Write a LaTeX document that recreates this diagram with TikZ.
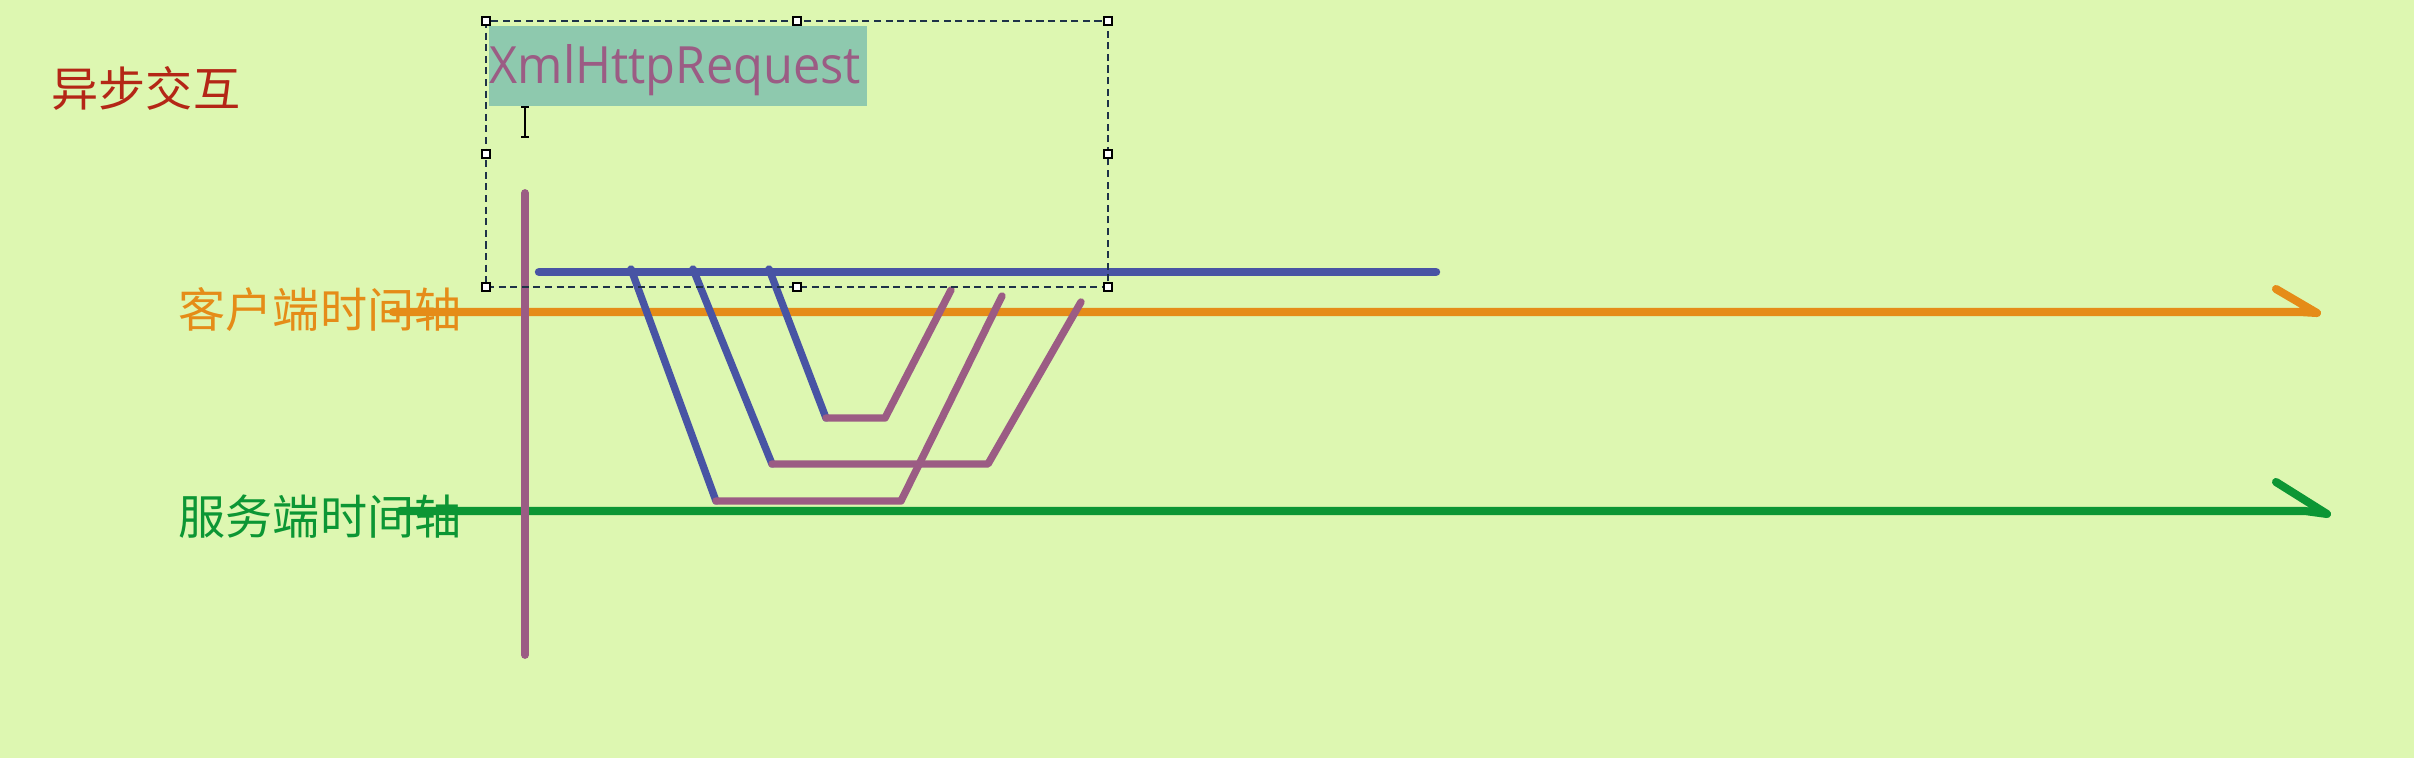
\documentclass[tikz,border=0pt]{standalone}
\usepackage{fontspec}
\setmainfont{Open Sans}
\newfontfamily\cjkfont{Noto Sans CJK SC}
\newfontfamily\xhrfont[FakeStretch=0.95]{Open Sans}
\usepackage{tikz}
\usetikzlibrary{positioning}
\definecolor{ajaxbg}{RGB}{221,247,177}
\definecolor{ajaxteal}{RGB}{142,201,174}
\definecolor{ajaxpurple}{RGB}{155,92,132}
\definecolor{ajaxblue}{RGB}{72,84,164}
\definecolor{ajaxorange}{RGB}{229,140,24}
\definecolor{ajaxgreen}{RGB}{12,150,52}
\definecolor{ajaxred}{RGB}{180,38,22}
\definecolor{ajaxsel}{RGB}{30,50,72}
\begin{document}
\begin{tikzpicture}[x=0.01cm,y=-0.01cm,
  axisline/.style={line width=2.3pt,line cap=round,line join=round},
  req/.style={line width=2.1pt,line cap=round,line join=round,draw=ajaxblue},
  resp/.style={line width=2.1pt,line cap=round,line join=round,draw=ajaxpurple},
  lbl/.style={inner sep=0pt,font=\cjkfont\fontsize{13.4}{16}\selectfont},
  handle/.style={rectangle,draw=black,fill=white,inner sep=0pt,minimum size=0.075cm,line width=0.5pt},
  selbox/.style={draw=ajaxsel,line width=0.5pt,dash pattern=on 2pt off 1.3pt}]
% Page and background.
\fill[ajaxbg] (0,0) rectangle (2414,758);
\useasboundingbox (0,0) rectangle (2414,758);
% Title and the text box.
\node[lbl,text=ajaxred] (title) at (146,88) {异步交互};
\fill[ajaxteal] (489,26) rectangle (867,106);
\node[inner sep=0pt,anchor=base west,text=ajaxpurple,font=\xhrfont\fontsize{14.6}{18}\selectfont] (xhr) at (489,84) {XmlHttpRequest};
\draw[black,line width=0.6pt] (521,107) -- (529,107) (525,107) -- (525,137) (521,137) -- (529,137);
% Axis labels.
\node[lbl,text=ajaxorange] (client) at (320,310) {客户端时间轴};
\node[lbl,text=ajaxgreen] (server) at (320,517) {服务端时间轴};
% Time axes with a half arrow head.
\coordinate (cA) at (393,312); \coordinate (cB) at (2317,313); \coordinate (cC) at (2276,289);
\coordinate (sA) at (400,511); \coordinate (sB) at (2327,514); \coordinate (sC) at (2276,482);
\draw[axisline,ajaxorange] (cA) -- (2300,312) -- (cB) -- (cC);
\draw[axisline,ajaxgreen] (sA) -- (2305,511) -- (sB) -- (sC);
% Blue line and the purple marker.
\coordinate (bA) at (539,272); \coordinate (bB) at (1436,272);
\draw[req,line width=2.4pt] (bA) -- (bB);
\coordinate (pA) at (525,193); \coordinate (pB) at (525,655);
\draw[resp,line width=2.2pt] (pA) -- (pB);
% The three requests: blue down, purple back up.
\foreach \n/\xa/\xb/\yb/\xc/\xd/\yd in {1/631/716/501/901/1002/296,
  2/693/772/464/988/1081/302, 3/769/826/418/885/951/290}{
  \coordinate (q\n a) at (\xa,269);
  \coordinate (q\n b) at (\xb,\yb);
  \coordinate (q\n c) at (\xc,\yb);
  \coordinate (q\n d) at (\xd,\yd);
  \draw[req] (q\n a) -- (q\n b);
  \draw[resp] (q\n b) -- (q\n c) -- (q\n d);
}
% Selection frame with its handles.
\coordinate (fNW) at (486,21); \coordinate (fSE) at (1108,287);
\draw[selbox] (fNW) rectangle (fSE);
\foreach \hx/\hy [count=\k] in {486/21,797/21,1108/21,486/154,1108/154,486/287,797/287,1108/287}
  \node[handle] (h\k) at (\hx,\hy) {};
\end{tikzpicture}
\end{document}
